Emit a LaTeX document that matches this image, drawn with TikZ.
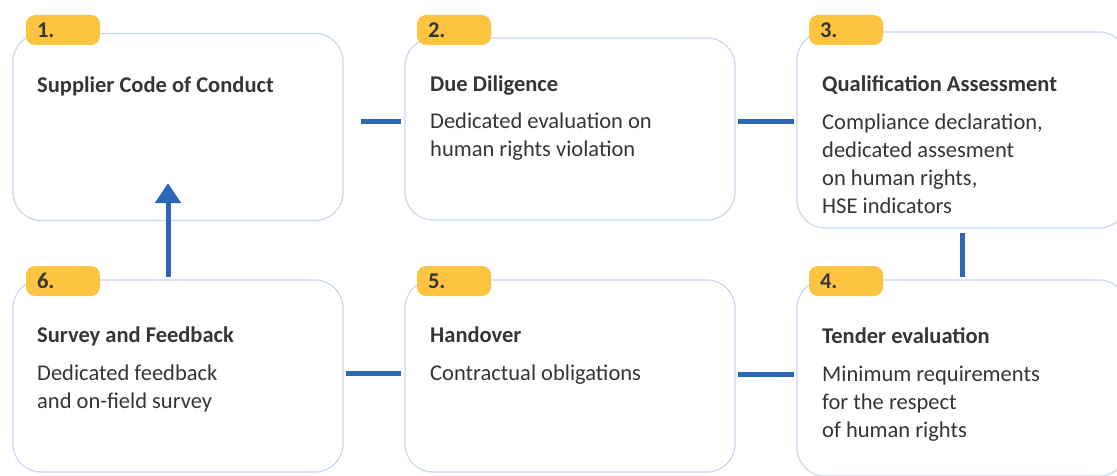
\documentclass[tikz,border=0pt]{standalone}
\usepackage{fontspec}
\setmainfont{Carlito}
\usetikzlibrary{arrows.meta}
\definecolor{stageline}{HTML}{C9D7EF}
\definecolor{tabfill}{HTML}{FCC440}
\definecolor{linkblue}{HTML}{2B67B6}
\definecolor{txt}{HTML}{353535}
\begin{document}
\begin{tikzpicture}[x=1pt,y=-1pt,
  stage/.style={draw=stageline, line width=1.2pt, rounded corners=28pt, minimum width=330pt, inner sep=0pt},
  tab/.style={fill=tabfill, rounded corners=9pt, minimum height=30pt, inner xsep=11pt, inner ysep=0pt, text width=52pt, align=left, text=txt, font=\fontsize{22.5}{28}\selectfont\bfseries},
  title/.style={anchor=base west, inner sep=0pt, text=txt, font=\fontsize{22.5}{28}\selectfont\bfseries},
  desc/.style={anchor=base west, inner sep=0pt, text=txt, align=left, font=\fontsize{22.5}{28}\selectfont},
  link/.style={draw=linkblue, line width=5pt}]
\useasboundingbox (0,0) rectangle (1117,476);
\node[stage, minimum height=187pt] (b1) at (178,127) {};
\node[stage, minimum height=182pt] (b2) at (570,129) {};
\node[stage, minimum height=196pt] (b3) at (962,130) {};
\node[stage, minimum height=192pt] (b6) at (178,376) {};
\node[stage, minimum height=192pt] (b5) at (570,376) {};
\node[stage, minimum height=196pt] (b4) at (962,378) {};
\node[tab] (n1) at (63,30) {1.};
\node[tab] (n2) at (454,30) {2.};
\node[tab] (n3) at (846,30) {3.};
\node[tab] (n6) at (63,281) {6.};
\node[tab] (n5) at (454,281) {5.};
\node[tab] (n4) at (846,281) {4.};
\node[title] (t1) at (37,93) {Supplier Code of Conduct};
\node[title] (t2) at (430,92) {Due Diligence};
\node[desc] (d2) at (430,157) {Dedicated evaluation on\\human rights violation};
\node[title] (t3) at (822,92) {Qualification Assessment};
\node[desc] (d3) at (822,213) {Compliance declaration,\\dedicated assesment\\on human rights,\\HSE indicators};
\node[title] (t6) at (37,342) {Survey and Feedback};
\node[desc] (d6) at (37,408) {Dedicated feedback\\and on-field survey};
\node[title] (t5) at (430,342) {Handover};
\node[desc] (d5) at (430,380) {Contractual obligations};
\node[title] (t4) at (822,343) {Tender evaluation};
\node[desc] (d4) at (822,437) {Minimum requirements\\for the respect\\of human rights};
\draw[link] ([xshift=17pt,yshift=5pt]b1.east) -- ([xshift=-3pt,yshift=5pt]b1.east -| b2.west);
\draw[link] ([xshift=2pt,yshift=7pt]b2.east) -- ([xshift=-2pt,yshift=7pt]b2.east -| b3.west);
\draw[link] ([yshift=-4pt]b3.south) -- ([yshift=2pt]b3.south |- b4.north);
\draw[link] ([xshift=2pt,yshift=3pt]b6.east) -- ([xshift=-3pt,yshift=3pt]b6.east -| b5.west);
\draw[link] ([xshift=2pt,yshift=2pt]b5.east) -- ([xshift=-2pt,yshift=2pt]b5.east -| b4.west);
\draw[link, -{Triangle[width=25pt,length=20pt]}] ([xshift=-10pt,yshift=2pt]b6.north) -- ([xshift=-10pt,yshift=38pt]b1.south);
\end{tikzpicture}
\end{document}
